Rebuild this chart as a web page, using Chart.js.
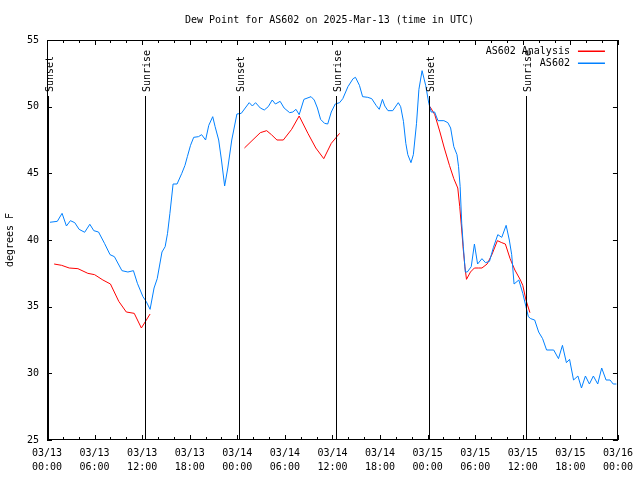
<!DOCTYPE html>
<html>
<head>
<meta charset="utf-8">
<script src="https://cdn.jsdelivr.net/npm/chart.js@4/dist/chart.umd.min.js"></script>
<style>
  html, body { margin: 0; padding: 0; background: #fff; }
  #wrap { width: 640px; height: 480px; }
</style>
</head>
<body>
<div id="wrap"><canvas id="dewpoint" width="640" height="480"></canvas></div>
<script>
// hours since 03/13 00:00 UTC
const obsHours = [
  0.375, 1.3, 1.9, 2.45, 2.95, 3.5, 4.05, 4.75, 5.4, 5.9, 6.5, 7.25, 7.95, 8.5, 9.45, 10.2, 10.9, 11.4,
  12.1, 12.5, 13.0, 13.5, 13.9, 14.5, 14.9, 15.2, 15.5, 15.9, 16.4, 17.0, 17.4, 17.7, 18.1, 18.5, 19.1,
  19.5, 20.0, 20.4, 20.9, 21.2, 21.65, 22.0, 22.4, 22.8, 23.3, 23.95, 24.5, 25.0, 25.5, 25.9, 26.3,
  26.9, 27.4, 27.9, 28.4, 28.8, 29.4, 29.9, 30.6, 31.0, 31.4, 31.8, 32.4, 33.3, 33.7, 34.1, 34.5, 35.0,
  35.4, 35.85, 36.35, 36.9, 37.3, 37.95, 38.6, 38.9, 39.4, 39.8, 40.45, 40.95, 41.5, 41.9, 42.3, 42.6,
  43.0, 43.6, 44.3, 44.6, 44.95, 45.25, 45.5, 45.9, 46.2, 46.6, 46.9, 47.3, 47.75, 48.15, 48.45, 48.88,
  49.3, 50.05, 50.55, 50.9, 51.3, 51.7, 51.9, 52.1, 52.3, 52.5, 52.75, 53.0, 53.5, 53.9, 54.3, 54.85,
  55.3, 55.8, 56.3, 56.85, 57.35, 57.9, 58.3, 58.6, 58.9, 59.5, 60.0, 60.4, 60.7, 61.0, 61.5, 62.0,
  62.5, 63.0, 63.9, 64.5, 65.0, 65.5, 65.9, 66.4, 66.95, 67.4, 67.9, 68.4, 68.9, 69.45, 69.95, 70.5,
  71.0, 71.4, 71.8
];
const obsDew = [
  41.33, 41.4, 42.0, 41.05, 41.45, 41.3, 40.8, 40.58, 41.18, 40.7, 40.6, 39.75, 38.9, 38.75, 37.7, 37.6, 37.7, 36.75,
  35.75, 35.4, 34.8, 36.4, 37.1, 39.1, 39.5, 40.5, 42.0, 44.2, 44.2, 45.0, 45.6, 46.25, 47.1, 47.7, 47.75,
  47.9, 47.5, 48.6, 49.25, 48.5, 47.5, 46.0, 44.05, 45.4, 47.5, 49.45, 49.5, 49.9, 50.3, 50.05, 50.3,
  49.9, 49.75, 50.0, 50.5, 50.2, 50.4, 49.9, 49.55, 49.6, 49.8, 49.4, 50.55, 50.75, 50.5, 49.9, 49.05, 48.75,
  48.7, 49.6, 50.2, 50.3, 50.6, 51.5, 52.1, 52.2, 51.6, 50.75, 50.7, 50.6, 50.1, 49.8, 50.55, 50.05,
  49.7, 49.7, 50.3, 50.0, 48.9, 47.25, 46.4, 45.8, 46.4, 48.75, 51.3, 52.7, 51.6, 50.25, 49.6, 49.6,
  48.95, 48.95, 48.8, 48.4, 47.0, 46.4, 45.5, 44.0, 41.25, 39.5, 37.6, 37.6, 38.0, 39.7, 38.2, 38.6,
  38.3, 38.4, 39.45, 40.4, 40.2, 41.1, 40.0, 38.9, 36.7, 37.0, 36.0, 35.0, 34.25, 34.1, 34.0, 33.1,
  32.6, 31.75, 31.75, 31.1, 32.1, 30.8, 31.05, 29.5, 29.8, 28.9, 29.8, 29.2, 29.8, 29.2, 30.4, 29.5,
  29.5, 29.2, 29.2
];

// analysis: three runs, null marks the breaks
const anaHours = [
  0.9, 1.85, 2.8, 3.9, 5.15, 6.0, 7.05, 8.0, 9.05, 10.0, 11.0, 11.9, 13.0, 18.0,
  24.9, 25.85, 26.9, 27.7, 28.3, 29.0, 29.8, 30.85, 31.8, 32.9, 33.9, 34.9, 35.85, 36.9, 42.0,
  48.3, 48.9, 49.55, 50.1, 50.75, 51.3, 51.8, 52.05, 52.3, 52.5, 52.7, 52.9, 53.4, 53.9, 54.4,
  54.85, 55.5, 56.1, 56.8, 57.35, 57.8, 58.4, 59.0, 59.7, 60.0, 60.4, 60.9
];
const anaDew = [
  38.2, 38.1, 37.9, 37.85, 37.5, 37.4, 37.0, 36.7, 35.4, 34.6, 34.5, 33.4, 34.45, null,
  46.9, 47.45, 48.05, 48.2, 47.9, 47.5, 47.5, 48.3, 49.3, 48.0, 46.9, 46.1, 47.25, 48.0, null,
  50.0, 49.4, 48.1, 46.9, 45.6, 44.6, 43.9, 42.5, 40.75, 39.25, 38.0, 37.05, 37.6, 37.9, 37.9,
  37.9, 38.2, 38.9, 39.95, 39.8, 39.7, 38.6, 37.75, 37.0, 36.6, 35.5, 34.55
];

const sunsetHours = [0.17, 24.2, 48.2];
const sunriseHours = [12.4, 36.45, 60.4];

const xTickLabels = [
  "03/13 00:00", "03/13 06:00", "03/13 12:00", "03/13 18:00",
  "03/14 00:00", "03/14 06:00", "03/14 12:00", "03/14 18:00",
  "03/15 00:00", "03/15 06:00", "03/15 12:00", "03/15 18:00",
  "03/16 00:00"
];
const yTicks = [25, 30, 35, 40, 45, 50, 55];

const FONT = "DejaVu Sans Mono";
const RED = "#ff0000";
const BLUE = "#0080ff";
const TITLE = "Dew Point for AS602 on 2025-Mar-13 (time in UTC)";
const pts = (xs, ys) => xs.map((x, i) => ({ x: x, y: ys[i] }));

// gnuplot-ish frame: title, box, inward ticks, sun lines, legend inside the plot
const frame = {
  id: "frame",
  afterDatasetsDraw(chart) {
    const ctx = chart.ctx, a = chart.chartArea;
    const xs = chart.scales.x, ys = chart.scales.y;
    ctx.save();
    ctx.font = "10px '" + FONT + "'";
    ctx.fillStyle = "#000";
    ctx.textAlign = "center";
    ctx.textBaseline = "middle";
    ctx.fillText(TITLE, (a.left + a.right) / 2 - 3, 20.5);

    ctx.strokeStyle = "#000";
    ctx.lineWidth = 1;
    ctx.strokeRect(Math.round(a.left) + 0.5, Math.round(a.top) + 0.5,
      Math.round(a.right - a.left) - 1, Math.round(a.bottom - a.top) - 1);

    ctx.beginPath();
    ys.ticks.forEach(t => {
      const py = Math.round(ys.getPixelForValue(t.value)) + 0.5;
      ctx.moveTo(a.left, py); ctx.lineTo(a.left + 5, py);
      ctx.moveTo(a.right, py); ctx.lineTo(a.right - 5, py);
    });
    const step = 6, minor = 2;
    for (let h = xs.min; h <= xs.max + 0.01; h += minor) {
      const len = (Math.abs(h % step) < 0.01) ? 5 : 3;
      const px = Math.round(xs.getPixelForValue(h)) + 0.5;
      ctx.moveTo(px, a.bottom); ctx.lineTo(px, a.bottom - len);
      ctx.moveTo(px, a.top); ctx.lineTo(px, a.top + len);
    }
    ctx.stroke();

    // sunrise / sunset markers
    const top = ys.getPixelForValue(50.8);
    const mark = (h, label) => {
      const px = Math.round(xs.getPixelForValue(h)) + 0.5;
      ctx.beginPath();
      ctx.moveTo(px, top); ctx.lineTo(px, a.bottom);
      ctx.stroke();
      ctx.save();
      ctx.translate(px + 1.5, top - 4);
      ctx.rotate(-Math.PI / 2);
      ctx.fillStyle = "#000";
      ctx.textAlign = "left";
      ctx.textBaseline = "middle";
      ctx.fillText(label, 0, 0);
      ctx.restore();
    };
    sunsetHours.forEach(h => mark(h, "Sunset"));
    sunriseHours.forEach(h => mark(h, "Sunrise"));

    // legend
    ctx.textAlign = "right";
    ctx.textBaseline = "middle";
    [["AS602 Analysis", RED], ["AS602", BLUE]].forEach(([label, col], i) => {
      const ly = Math.round(a.top + 10.5 + i * 12);
      ctx.fillStyle = "#000";
      ctx.fillText(label, a.right - 48, ly + 0.5);
      ctx.fillStyle = col;
      ctx.fillRect(a.right - 40, ly - 0.5, 27, 1.5);
    });
    ctx.restore();
  }
};

new Chart(document.getElementById("dewpoint"), {
  type: "line",
  data: {
    datasets: [
      {
        label: "AS602 Analysis",
        data: pts(anaHours, anaDew),
        borderColor: RED,
        borderWidth: 1,
        pointRadius: 0,
        spanGaps: false,
        tension: 0,
        order: 1
      },
      {
        label: "AS602",
        data: pts(obsHours, obsDew),
        borderColor: BLUE,
        borderWidth: 1,
        pointRadius: 0,
        tension: 0,
        order: 0
      }
    ]
  },
  options: {
    responsive: false,
    animation: false,
    layout: { padding: { top: 40, right: 18 } },
    plugins: {
      legend: { display: false },
      tooltip: { enabled: false },
      title: { display: false }
    },
    scales: {
      x: {
        type: "linear",
        min: 0,
        max: 72,
        grid: { display: false, drawTicks: false },
        border: { display: false },
        afterFit: s => { s.height = 40; },
        afterBuildTicks: s => { s.ticks = xTickLabels.map((_, i) => ({ value: i * 6 })); },
        ticks: {
          autoSkip: false,
          maxRotation: 0,
          padding: 7,
          color: "#000",
          font: { family: FONT, size: 10, lineHeight: 1.35 },
          callback: (v, i) => xTickLabels[i].split(" ")
        }
      },
      y: {
        min: 25,
        max: 55,
        grid: { display: false, drawTicks: false },
        border: { display: false },
        afterFit: s => { s.width = 47; },
        afterBuildTicks: s => { s.ticks = yTicks.map(v => ({ value: v })); },
        title: {
          display: true,
          text: "degrees F",
          color: "#000",
          font: { family: FONT, size: 10, weight: "normal" },
          padding: { top: 4, bottom: 0 }
        },
        ticks: {
          padding: 8,
          color: "#000",
          font: { family: FONT, size: 10 }
        }
      }
    }
  },
  plugins: [frame]
});
</script>
</body>
</html>
